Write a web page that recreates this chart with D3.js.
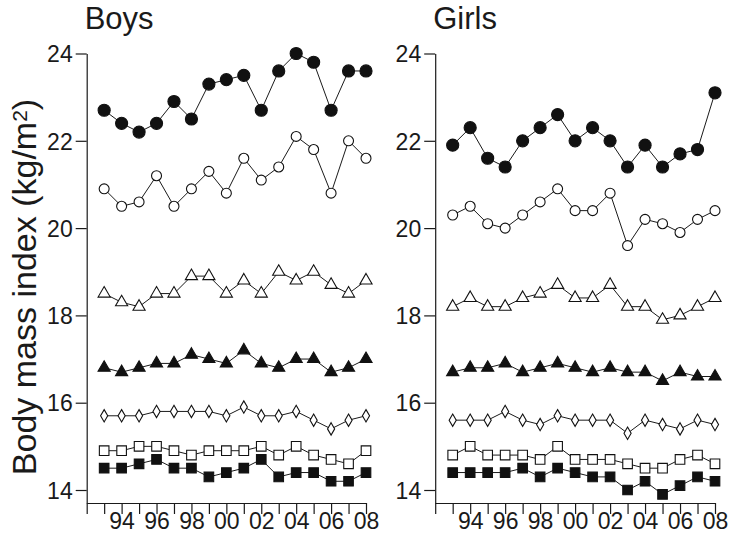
<!DOCTYPE html>
<html>
<head>
<meta charset="utf-8">
<script src="https://cdn.jsdelivr.net/npm/d3@7"></script>
<style>
  body { margin: 0; background: #fff; }
  text { font-family: "Liberation Sans", Arial, Helvetica, sans-serif; fill: #1a1a1a; }
</style>
</head>
<body>
<div class="chart"></div>
<script>
var svgWidth = 729;
var svgHeight = 537;

// survey years
var years = [1993, 1994, 1995, 1996, 1997, 1998, 1999, 2000, 2001, 2002, 2003, 2004, 2005, 2006, 2007, 2008];
var yTicks = [14, 16, 18, 20, 22, 24];
var xLabelYears = [1994, 1996, 1998, 2000, 2002, 2004, 2006, 2008];

// Boys, one array per marker style (top to bottom)
var boysFilledCircle   = [22.7, 22.4, 22.2, 22.4, 22.9, 22.5, 23.3, 23.4, 23.5, 22.7, 23.6, 24.0, 23.8, 22.7, 23.6, 23.6];
var boysOpenCircle     = [20.9, 20.5, 20.6, 21.2, 20.5, 20.9, 21.3, 20.8, 21.6, 21.1, 21.4, 22.1, 21.8, 20.8, 22.0, 21.6];
var boysOpenTriangle   = [18.5, 18.3, 18.2, 18.5, 18.5, 18.9, 18.9, 18.5, 18.8, 18.5, 19.0, 18.8, 19.0, 18.7, 18.5, 18.8];
var boysFilledTriangle = [16.8, 16.7, 16.8, 16.9, 16.9, 17.1, 17.0, 16.9, 17.2, 16.9, 16.8, 17.0, 17.0, 16.7, 16.8, 17.0];
var boysDiamond        = [15.7, 15.7, 15.7, 15.8, 15.8, 15.8, 15.8, 15.7, 15.9, 15.7, 15.7, 15.8, 15.6, 15.4, 15.6, 15.7];
var boysOpenSquare     = [14.9, 14.9, 15.0, 15.0, 14.9, 14.8, 14.9, 14.9, 14.9, 15.0, 14.8, 15.0, 14.8, 14.7, 14.6, 14.9];
var boysFilledSquare   = [14.5, 14.5, 14.6, 14.7, 14.5, 14.5, 14.3, 14.4, 14.5, 14.7, 14.3, 14.4, 14.4, 14.2, 14.2, 14.4];

// Girls
var girlsFilledCircle   = [21.9, 22.3, 21.6, 21.4, 22.0, 22.3, 22.6, 22.0, 22.3, 22.0, 21.4, 21.9, 21.4, 21.7, 21.8, 23.1];
var girlsOpenCircle     = [20.3, 20.5, 20.1, 20.0, 20.3, 20.6, 20.9, 20.4, 20.4, 20.8, 19.6, 20.2, 20.1, 19.9, 20.2, 20.4];
var girlsOpenTriangle   = [18.2, 18.4, 18.2, 18.2, 18.4, 18.5, 18.7, 18.4, 18.4, 18.7, 18.2, 18.2, 17.9, 18.0, 18.2, 18.4];
var girlsFilledTriangle = [16.7, 16.8, 16.8, 16.9, 16.7, 16.8, 16.9, 16.8, 16.7, 16.8, 16.7, 16.7, 16.5, 16.7, 16.6, 16.6];
var girlsDiamond        = [15.6, 15.6, 15.6, 15.8, 15.6, 15.5, 15.7, 15.6, 15.6, 15.6, 15.3, 15.6, 15.5, 15.4, 15.6, 15.5];
var girlsOpenSquare     = [14.8, 15.0, 14.8, 14.8, 14.8, 14.7, 15.0, 14.7, 14.7, 14.7, 14.6, 14.5, 14.5, 14.7, 14.8, 14.6];
var girlsFilledSquare   = [14.4, 14.4, 14.4, 14.4, 14.5, 14.3, 14.5, 14.4, 14.3, 14.3, 14.0, 14.2, 13.9, 14.1, 14.3, 14.2];

var markerStyles = [
  { symbol: d3.symbolCircle, filled: true, size: 115 },
  { symbol: d3.symbolCircle, filled: false, size: 78 },
  { symbol: d3.symbolTriangle, filled: false, size: 64 },
  { symbol: d3.symbolTriangle, filled: true, size: 64 },
  { symbol: d3.symbolDiamond, filled: false, size: 44 },
  { symbol: d3.symbolSquare, filled: false, size: 92 },
  { symbol: d3.symbolSquare, filled: true, size: 92 }
];

var panels = [
  { title: "Boys", left: 86.7, right: 366,
    series: [boysFilledCircle, boysOpenCircle, boysOpenTriangle, boysFilledTriangle, boysDiamond, boysOpenSquare, boysFilledSquare] },
  { title: "Girls", left: 435.2, right: 715,
    series: [girlsFilledCircle, girlsOpenCircle, girlsOpenTriangle, girlsFilledTriangle, girlsDiamond, girlsOpenSquare, girlsFilledSquare] }
];

var axisY = 503;

var svg = d3.select(".chart")
  .append("svg")
  .attr("width", svgWidth)
  .attr("height", svgHeight);

// shared y scale
var yLinearScale = d3.scaleLinear()
  .domain([14, 24])
  .range([490, 53.5]);

// same mapping but reaching down to the x axis line
var yAxisScale = yLinearScale.copy()
  .domain([yLinearScale.invert(axisY), 24])
  .range([axisY, 53.5]);

panels.forEach(function(panel) {
  var xLinearScale = d3.scaleLinear()
    .domain([1992, 2008])
    .range([panel.left, panel.right]);

  var g = svg.append("g");

  // y axis
  var leftAxis = d3.axisLeft(yAxisScale)
    .tickValues(yTicks)
    .tickSize(11)
    .tickSizeOuter(0)
    .tickPadding(3)
    .tickFormat(d3.format("d"));

  var yAxis = g.append("g")
    .attr("transform", `translate(${panel.left}, 0)`)
    .call(leftAxis);

  yAxis.selectAll("text").style("font-size", "23px").attr("dy", "0.36em");

  // x axis
  var bottomAxis = d3.axisBottom(xLinearScale)
    .tickValues(d3.range(1992, 2009))
    .tickSize(11)
    .tickSizeOuter(0)
    .tickPadding(0)
    .tickFormat(d => xLabelYears.indexOf(d) >= 0 ? String(d).slice(2) : "");

  var xAxis = g.append("g")
    .attr("transform", `translate(0, ${axisY})`)
    .call(bottomAxis);

  xAxis.selectAll("text").style("font-size", "23px").attr("dy", "0.67em");

  g.selectAll(".domain, .tick line")
    .attr("stroke", "#1a1a1a")
    .attr("stroke-width", 1.2);

  // panel title
  g.append("text")
    .attr("x", panel.left - 2)
    .attr("y", 29)
    .style("font-size", "31px")
    .text(panel.title);

  var line = d3.line()
    .x((d, i) => xLinearScale(years[i]))
    .y(d => yLinearScale(d));

  panel.series.forEach(function(values, s) {
    var style = markerStyles[s];

    g.append("path")
      .datum(values)
      .attr("fill", "none")
      .attr("stroke", "#1a1a1a")
      .attr("stroke-width", 1)
      .attr("d", line);

    g.selectAll(null)
      .data(values)
      .enter()
      .append("path")
      .attr("transform", (d, i) => `translate(${xLinearScale(years[i])}, ${yLinearScale(d)})`)
      .attr("d", d3.symbol().type(style.symbol).size(style.size))
      .attr("fill", style.filled ? "#111" : "#fff")
      .attr("stroke", "#111")
      .attr("stroke-width", 1.1);
  });
});

// y axis title
var yTitle = svg.append("text")
  .attr("transform", "translate(36, 287) rotate(-90)")
  .attr("text-anchor", "middle")
  .style("font-size", "34px");

yTitle.append("tspan").text("Body mass index (kg/m");
yTitle.append("tspan").attr("dy", "-0.45em").style("font-size", "21px").text("2");
yTitle.append("tspan").attr("dy", "0.28em").text(")");
</script>
</body>
</html>
